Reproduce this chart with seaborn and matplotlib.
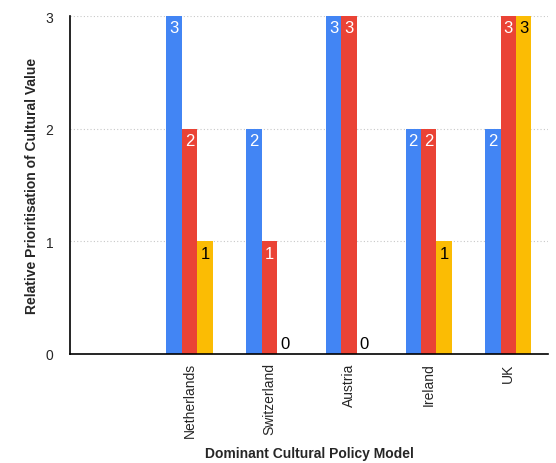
import matplotlib
matplotlib.use("Agg")
import matplotlib.pyplot as plt
import seaborn as sns
import pandas as pd

# Countries (a leading blank slot keeps the first group off the axis)
countries = ["", "Netherlands", "Switzerland", "Austria", "Ireland", "UK"]
series = ["Series 1", "Series 2", "Series 3"]
series1 = [3, 2, 3, 2, 2]
series2 = [2, 1, 3, 2, 3]
series3 = [1, 0, 0, 1, 3]
colors = ["#4285F4", "#EA4335", "#FBBC04"]
label_colors = ["white", "white", "black"]
yticks = [0, 1, 2, 3]

rows = []
for name, vals in zip(series, [series1, series2, series3]):
    for c, v in zip(countries[1:], vals):
        rows.append({"country": c, "series": name, "value": v})
df = pd.DataFrame(rows)

sns.set_style("white")
plt.rcParams["font.family"] = ["Liberation Sans", "DejaVu Sans"]

fig = plt.figure(figsize=(5.56, 4.64), dpi=100)
ax = fig.add_axes([0.126, 0.235, 0.86, 0.728])

sns.barplot(data=df, x="country", y="value", hue="series", order=countries,
            hue_order=series, palette=colors, saturation=1, width=0.58,
            linewidth=0, legend=False, ax=ax)

# value labels: inside the bar top, or just above the axis for zeros
for container, lc in zip(ax.containers, label_colors):
    for bar in container:
        h = bar.get_height()
        x = bar.get_x() + bar.get_width() / 2
        if h > 0:
            ax.annotate(f"{h:.0f}", (x, h), xytext=(0, -3), textcoords="offset points",
                        ha="center", va="top", fontsize=12, color=lc)
        else:
            ax.annotate(f"{h:.0f}", (x, 0), xytext=(0, 2), textcoords="offset points",
                        ha="center", va="bottom", fontsize=12, color="black")

ax.set_ylim(0, 3)
ax.set_xlim(-0.5, len(countries) - 0.5)
ax.set_yticks(yticks)
ax.set_yticklabels([str(t) for t in yticks])
ax.tick_params(axis="y", length=0, pad=12, labelsize=10)
ax.tick_params(axis="x", length=0, pad=6, labelsize=10)
plt.setp(ax.get_xticklabels(), rotation=90)

ax.yaxis.grid(True, linestyle=(0, (1, 2)), color="#c8c8c8", linewidth=0.8)
ax.set_axisbelow(True)
for side in ["top", "right"]:
    ax.spines[side].set_visible(False)
for side in ["left", "bottom"]:
    ax.spines[side].set_color("black")
    ax.spines[side].set_linewidth(1.2)

ax.set_xlabel("Dominant Cultural Policy Model", fontsize=10, fontweight="bold", labelpad=6)
ax.set_ylabel("Relative Prioritisation of Cultural Value", fontsize=10, fontweight="bold", labelpad=5)

fig.savefig("out.png", dpi=100)
